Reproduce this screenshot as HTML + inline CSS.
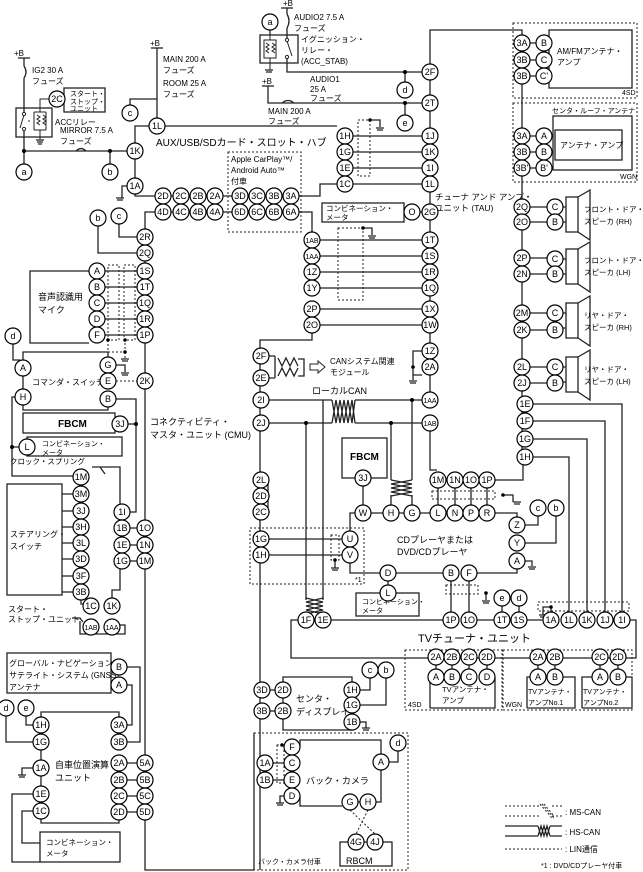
<!DOCTYPE html>
<html><head><meta charset="utf-8"><style>
body{margin:0;background:#fff}
svg{display:block;font-family:"Liberation Sans","Noto Sans CJK JP",sans-serif}
.c{fill:#fff;stroke:#000;stroke-width:1.2}
.t{font-size:9px;text-anchor:middle}
.l{font-size:8px}
.m{font-size:10px}
line,path,polyline{stroke:#222;stroke-width:1.3;fill:none}
.d{stroke-dasharray:2,2;stroke-width:1}
rect{fill:none;stroke:#222;stroke-width:1.3}
.dr{stroke-dasharray:2,2;stroke-width:1}
.j{fill:#000;stroke:none}
.sc{fill:#fff;stroke:#222;stroke-width:1}
</style></head><body>
<svg width="643" height="872" viewBox="0 0 643 872" xmlns="http://www.w3.org/2000/svg">
<!-- ===== top-left power ===== -->
<line x1="18" y1="58" x2="30" y2="58"/><text x="14" y="56" class="l">+B</text>
<path d="M24 58V66 M24 78V113 M24 130V172"/>
<path d="M24 66q4 6 0 12"/>
<text x="32" y="73" class="l">IG2 30 A</text><text x="32" y="84" class="l">フューズ</text>
<rect x="16" y="108" width="36" height="29"/>
<path d="M24 115L20 128" style="stroke-width:1"/><circle cx="24" cy="114" r="1.6" class="sc"/><circle cx="24" cy="129" r="1.6" class="sc"/>
<path d="M40 112V99H49 M34 112H46 M34 112V130 M46 112V130 M34 130H46 M40 130V140" style="stroke-width:1"/>
<path d="M37 115l3 2-3 2 3 2-3 2 3 2 M43 115l3 2-3 2 3 2-3 2 3 2 M29 120v2" style="stroke-width:1"/>
<text x="55" y="125" class="l">ACCリレー</text>
<rect x="64" y="88" width="41" height="24"/>
<text x="70" y="96" class="l" style="font-size:7px">スタート・</text><text x="70" y="104" class="l" style="font-size:7px">ストップ・</text><text x="70" y="111" class="l" style="font-size:7px">ユニット</text>
<path d="M24 151H127 M76 151q5 -5 10 0"/>
<text x="60" y="133" class="l">MIRROR 7.5 A</text><text x="60" y="144" class="l">フューズ</text>
<circle cx="24" cy="151" r="2" class="j"/><circle cx="110" cy="151" r="2" class="j"/>
<path d="M110 151V164"/>
<!-- MAIN 200A -->
<line x1="151" y1="48" x2="163" y2="48"/><text x="150" y="46" class="l">+B</text>
<path d="M157 48V118 M157 99H130V105"/>
<text x="163" y="62" class="l">MAIN 200 A</text><text x="163" y="73" class="l">フューズ</text>
<text x="163" y="86" class="l">ROOM 25 A</text><text x="163" y="97" class="l">フューズ</text>
<!-- hub box -->
<path d="M135 143V126H337 M135 159V178 M135 194V196H155"/>
<path d="M128 186H122V198"/>
<text x="156" y="146" class="m">AUX/USB/SDカード・スロット・ハブ</text>
<rect x="228" y="152" width="73" height="80" class="dr"/>
<text x="231" y="162" class="l">Apple CarPlay™/</text><text x="231" y="173" class="l">Android Auto™</text><text x="231" y="184" class="l">付車</text>
<path d="M155 196H320V184H337 M163 196V212 M181 196V212 M198 196V212 M215 196V212 M240 196V212 M257 196V212 M274 196V212 M291 196V212"/>
<path d="M145 229V212H312V232"/>
<path d="M119 224V237H137 M98 226V253H137"/>
<!-- CMU left vertical -->
<path d="M145 245V870H254V733 M260 870V340H312V333"/>
<text x="150" y="425" class="l" style="font-size:9px">コネクティビティ・</text><text x="150" y="438" class="l" style="font-size:9px">マスタ・ユニット (CMU)</text>
<!-- mic -->
<path d="M89 271H30V343H89"/>
<text x="38" y="300" class="l" style="font-size:9px">音声認識用</text><text x="38" y="313" class="l" style="font-size:9px">マイク</text>
<path d="M105 271H137 M105 287H137 M105 303H137 M105 319H137 M105 335H137"/>
<rect x="108" y="265" width="11" height="75" class="dr"/><rect x="124" y="265" width="11" height="75" class="dr"/>
<path d="M108 340V352H125V340 M125 352V358" class="d"/>
<circle cx="108" cy="340" r="1.8" class="j"/><circle cx="125" cy="340" r="1.8" class="j"/><circle cx="125" cy="352" r="1.8" class="j"/>
<!-- commander switch -->
<path d="M13 344V360H20 M23 376V389 M23 360V352H108V357 M23 405V410H108V407 M116 365H125V372 M116 399H136V512H130"/>
<path d="M116 381H137" class="d"/>
<text x="32" y="385" class="l">コマンダ・スイッチ</text>
<rect x="23" y="413" width="92" height="20"/><text x="58" y="427" class="m" style="font-weight:bold">FBCM</text>
<path d="M128 424H136"/><circle cx="136" cy="424" r="2" class="j"/>
<rect x="27" y="437" width="95" height="19"/>
<text x="42" y="446" class="l" style="font-size:7px">コンビネーション・</text><text x="42" y="455" class="l" style="font-size:7px">メータ</text>
<path d="M15 397H12V476H73 M12 447H19"/><circle cx="12" cy="447" r="2" class="j"/>
<text x="10" y="464" class="l" style="font-size:7.5px">クロック・スプリング</text>
<path d="M92 467H100L105 474 M100 467H120V504"/>
<rect x="7" y="484" width="55" height="111"/>
<text x="10" y="537" class="l">ステアリング・</text><text x="10" y="549" class="l">スイッチ</text>
<path d="M62 494H73 M62 511H73 M62 527H73 M62 543H73 M62 559H73 M62 576H73 M62 592H73"/>
<path d="M81 600V604H83 M130 528H137 M130 545H137 M130 561H137 M112 598V590H120V569 M122 520V536"/>
<text x="8" y="612" class="l">スタート・</text><text x="8" y="622" class="l">ストップ・ユニット</text>
<path d="M72 618H80L83 622 M80 621V634H125V625H120"/>
<!-- GNSS -->
<rect x="7" y="653" width="104" height="40"/>
<text x="9" y="666" class="l">グローバル・ナビゲーション・</text><text x="9" y="678" class="l">サテライト・システム (GNSS)</text><text x="9" y="690" class="l">アンテナ</text>
<path d="M127 667H140V742H127 M127 685H132V725H127"/>
<path d="M6 716V742H33 M26 716V725H33 M41 717V712H119V717 M41 750V760 M41 776V786 M41 802V803 M41 819V823H119V820"/>
<path d="M127 763H137 M127 780H137 M127 796H137 M127 812H137 M33 768H22V775"/>
<path d="M33 794H12V862H40 M33 811H22V843H40"/>
<text x="55" y="768" class="l" style="font-size:9px">自車位置演算</text><text x="55" y="781" class="l" style="font-size:9px">ユニット</text>
<rect x="40" y="832" width="80" height="30"/>
<text x="46" y="845" class="l" style="font-size:7.5px">コンビネーション・</text><text x="46" y="856" class="l" style="font-size:7.5px">メータ</text>
<!-- ===== top middle AUDIO ===== -->
<line x1="281" y1="8" x2="293" y2="8"/><text x="283" y="6" class="l">+B</text>
<path d="M287 8V14 M287 28V40 M287 58V72H422 M270 30V35"/>
<path d="M287 14q4 7 0 14"/>
<path d="M287 41L292 56" style="stroke-width:1"/><circle cx="287" cy="40" r="1.6" class="sc"/><circle cx="287" cy="57" r="1.6" class="sc"/>
<text x="294" y="20" class="l">AUDIO2 7.5 A</text><text x="294" y="31" class="l">フューズ</text>
<rect x="260" y="35" width="38" height="28"/>
<path d="M270 35V40 M264 40H276V58H264Z M270 58V70 M266 43l3 2-3 2 3 2-3 2 3 2 M272 43l3 2-3 2 3 2-3 2 3 2" style="stroke-width:1"/>
<text x="301" y="42" class="l">イグニッション・</text><text x="301" y="53" class="l">リレー・</text><text x="301" y="64" class="l">(ACC_STAB)</text>
<line x1="262" y1="86" x2="274" y2="86"/><text x="262" y="84" class="l">+B</text>
<path d="M268 86V103H422 M282 103q6 -5 12 0"/>
<text x="310" y="82" class="l">AUDIO1</text><text x="310" y="92" class="l">25 A</text><text x="310" y="101" class="l">フューズ</text>
<text x="268" y="114" class="l">MAIN 200 A</text><text x="268" y="124" class="l">フューズ</text>
<path d="M405 72V82 M405 103V115"/><circle cx="405" cy="72" r="2" class="j"/><circle cx="405" cy="103" r="2" class="j"/>
<!-- TAU column -->
<path d="M430 64V30H522V35 M430 80V95 M430 111V128 M430 144V204 M430 220V232 M430 295V301 M430 333V343 M430 375V392 M430 431V470H437"/>
<path d="M353 136H422 M353 152H422 M353 168H422 M353 184H422"/>
<rect x="358" y="120" width="12" height="56" class="dr"/><path d="M370 120H380V127"/><circle cx="370" cy="120" r="1.8" class="j"/>
<text x="435" y="200" class="l" style="font-size:8.5px">チューナ アンド アンプ・</text><text x="435" y="211" class="l" style="font-size:8.5px">ユニット (TAU)</text>
<rect x="322" y="203" width="82" height="19"/>
<text x="326" y="211" class="l" style="font-size:7.5px">コンビネーション・</text><text x="326" y="220" class="l" style="font-size:7.5px">メータ</text>
<path d="M420 212H422"/>
<path d="M320 240H422 M320 256H422 M320 272H422 M320 288H422 M320 309H422 M320 325H422"/>
<rect x="338" y="228" width="25" height="72" class="dr"/><path d="M363 228H372V235"/><circle cx="363" cy="228" r="1.8" class="j"/>
<path d="M422 351H413V375H422 M413 367V380"/><circle cx="413" cy="367" r="1.8" class="j"/>
<!-- CAN -->
<path d="M269 356H275 M269 378H275 M275 356V378"/>
<path d="M278 358l4 8 4-8 4 8 4-8 4 8 M278 376l4-8 4 8 4-8 4 8 4-8 M298 359h6v17h-6"/>
<path d="M310 364h8v-3l7 6-7 6v-3h-8z" style="stroke-width:1"/>
<text x="330" y="364" class="l">CANシステム関連</text><text x="330" y="375" class="l">モジュール</text>
<text x="312" y="394" class="l" style="font-size:9px">ローカルCAN</text>
<path d="M269 400H332 M355 400H422 M269 423H332 M355 423H422"/>
<path d="M332 400l4 23 4-23 4 23 4-23 4 23 3-23 M332 423l4-23 4 23 4-23 4 23 4-23 3 23"/>
<path d="M306 423V600 M323 400V600 M412 400V480 M391 423V480 M391 495V505 M412 495V505"/>
<circle cx="306" cy="423" r="2" class="j"/><circle cx="412" cy="400" r="2" class="j"/><circle cx="391" cy="423" r="2" class="j"/>
<path d="M306 598l17 4-17 4 17 4-17 4 M323 598l-17 4 17 4-17 4 17 4"/>
<path d="M391 480l21 4-21 4 21 4-21 4 M412 480l-21 4 21 4-21 4 21 4"/>
<rect x="342" y="438" width="45" height="40"/><text x="350" y="460" class="m" style="font-weight:bold">FBCM</text>
<path d="M363 486V505 M350 531V513H355 M371 513H383 M399 513H404 M420 513H430 M495 513H517V517"/>
<path d="M438 488V505 M455 488V505 M471 488V505 M487 488V505 M495 480H523V465"/>
<rect x="432" y="491" width="63" height="8" class="dr"/><path d="M503 495H513V502"/><circle cx="503" cy="495" r="1.8" class="j"/>
<path d="M525 525H538V516 M525 543H556V516 M525 561H532V566"/>
<text x="397" y="543" class="l" style="font-size:9px">CDプレーヤまたは</text><text x="397" y="555" class="l" style="font-size:9px">DVD/CDプレーヤ</text>
<rect x="250" y="528" width="114" height="56" class="dr"/><text x="355" y="582" class="l" style="font-size:7px">*1</text>
<path d="M269 539H342 M269 555H342 M350 563V573H380 M396 573H443 M477 573H517V569"/>
<rect x="331" y="535" width="8" height="25" class="dr"/><path d="M335 560V568"/><circle cx="335" cy="560" r="1.8" class="j"/>
<path d="M388 581V585"/>
<rect x="356" y="593" width="63" height="23"/><text x="362" y="604" class="l" style="font-size:7px">コンビネーション・</text><text x="362" y="613" class="l" style="font-size:7px">メータ</text>
<path d="M451 581V612 M469 581V612 M502 606V612 M519 606V612"/>
<rect x="446" y="585" width="32" height="9" class="dr"/><path d="M486 593V600"/><circle cx="486" cy="593" r="1.8" class="j"/>
<!-- TV tuner -->
<path d="M298 620H291V658H636V620H630 M314 620H315 M331 620H443 M477 620H494 M527 620H543"/>
<text x="418" y="642" class="m" style="font-size:11px">TVチューナ・ユニット</text>
<rect x="538" y="602" width="91" height="9" class="dr"/><path d="M551 612V607H543V615"/><circle cx="551" cy="607" r="1.8" class="j"/>
<path d="M533 404H622V612 M533 421H605V612 M533 439H587V612 M533 457H569V612"/>
<!-- right column -->
<path d="M522 84V449 M530 207H547 M530 222H547 M530 258H547 M530 274H547 M530 313H547 M530 330H547 M530 367H547 M530 383H547"/>
<rect x="513" y="23" width="124" height="75" class="dr"/>
<rect x="549" y="30" width="83" height="58"/>
<path d="M530 43H536 M530 60H536 M530 76H536"/>
<text x="557" y="54" class="l">AM/FMアンテナ・</text><text x="557" y="65" class="l">アンプ</text>
<text x="622" y="95" class="l" style="font-size:7px">4SD</text>
<rect x="513" y="103" width="124" height="79" class="dr"/>
<text x="552" y="113" class="l" style="font-size:7px">センタ・ルーフ・アンテナ</text>
<rect x="553" y="116" width="79" height="54"/>
<rect x="555" y="130" width="67" height="30"/><text x="560" y="148" class="l">アンテナ・アンプ</text>
<path d="M530 136H536 M530 152H536 M530 168H536"/>
<text x="620" y="179" class="l" style="font-size:7px">WGN</text>
<!-- speakers -->
<g id="sp"><rect x="566" y="197" width="12" height="35"/><path d="M563 207H566 M563 222H566 M578 197L590 190V240L578 232"/></g>
<use href="#sp" y="52"/><use href="#sp" y="106"/><use href="#sp" y="160"/>
<g style="font-size:7.5px">
<text x="584" y="212">フロント・ドア・</text><text x="584" y="224">スピーカ (RH)</text>
<text x="584" y="263">フロント・ドア・</text><text x="584" y="275">スピーカ (LH)</text>
<text x="584" y="318">リヤ・ドア・</text><text x="584" y="330">スピーカ (RH)</text>
<text x="584" y="372">リヤ・ドア・</text><text x="584" y="384">スピーカ (LH)</text>
</g>
<!-- center display -->
<path d="M270 690H275 M270 711H275 M283 698V703 M283 682V677H352V682 M283 719V730H352 M360 722H366V728 M360 690H370V678 M360 705H386V678"/>
<text x="296" y="702" class="l" style="font-size:9px">センタ・</text><text x="296" y="715" class="l" style="font-size:9px">ディスプレイ</text>
<rect x="254" y="733" width="154" height="137" class="dr"/>
<path d="M273 763H284 M273 780H284 M300 747V740H381V754 M284 796H280V803 M300 796V806H342 M358 802H360 M376 802H381V770 M389 762H398V751"/>
<rect x="277" y="745" width="7" height="38" class="dr"/><circle cx="282" cy="745" r="1.8" class="j"/>
<text x="306" y="784" class="l" style="font-size:9px">バック・カメラ</text>
<path d="M350 810L375 834 M368 810L356 834" class="d"/>
<rect x="340" y="842" width="52" height="24"/><text x="346" y="864" class="l" style="font-size:9px">RBCM</text>
<text x="258" y="864" class="l" style="font-size:7px">バック・カメラ付車</text>
<!-- TV antennas -->
<rect x="405" y="650" width="97" height="60" class="dr"/><rect x="503" y="650" width="129" height="60" class="dr"/>
<path d="M436 665V669 M452 665V669 M469 665V669 M487 665V669 M538 665V669 M555 665V669 M600 665V669 M618 665V669"/>
<path d="M430 708V677H428 M495 677V708H430 M527 708V677H530 M563 677H575V708H527 M582 708V677H592 M626 677H632V708H582"/>
<text x="442" y="692" class="l" style="font-size:7.5px">TVアンテナ・</text><text x="442" y="703" class="l" style="font-size:7.5px">アンプ</text>
<text x="408" y="707" class="l" style="font-size:7px">4SD</text><text x="505" y="707" class="l" style="font-size:7px">WGN</text>
<text x="528" y="694" class="l" style="font-size:7px">TVアンテナ・</text><text x="528" y="705" class="l" style="font-size:7px">アンプNo.1</text>
<text x="583" y="694" class="l" style="font-size:7px">TVアンテナ・</text><text x="583" y="705" class="l" style="font-size:7px">アンプNo.2</text>
<!-- legend -->
<path d="M505 806H540 M552 806H562 M505 816H540 M552 816H562" class="d"/>
<path d="M540 804l12 14 M542 804l12 14 M544 804l10 12" class="d"/>
<path d="M505 826H538 M550 826H562 M505 836H538 M550 836H562 M538 826l3 10 3-10 3 10 3-10 M538 836l3-10 3 10 3-10 3 10"/>
<path d="M505 849H562" class="d"/>
<text x="565" y="815" class="l">: MS-CAN</text><text x="565" y="835" class="l">: HS-CAN</text><text x="565" y="852" class="l">: LIN通信</text>
<text x="541" y="868" class="l" style="font-size:7px">*1  : DVD/CDプレーヤ付車</text>
<!-- ground marks -->
<g style="stroke-width:1">
<path d="M36 140h8M37 142h6M38 144h4 M116 198h8M117 200h6 M376 128h8M377 130h6 M368 236h8M369 238h6 M121 359h8M122 361h6 M121 373h8M122 375h6 M409 381h8M410 383h6 M258 517h8M259 519h6 M331 568h8M332 570h6 M513 502h8M514 504h6 M528 567h8M529 569h6 M482 601h8M483 603h6 M539 615h8M540 617h6 M18 775h8M19 777h6 M362 728h8M363 730h6 M276 803h8M277 805h6 M265 70h8M266 72h6"/>
</g>
<path d="M261 480H268V512"/><circle cx="268" cy="496" r="1.8" class="j"/><circle cx="268" cy="512" r="1.8" class="j"/>
<!-- ===== connector circles ===== -->
<g>
<circle cx="24" cy="172" r="8" class="c"/><text x="24" y="175" class="t">a</text>
<circle cx="110" cy="172" r="8" class="c"/><text x="110" y="175" class="t">b</text>
<circle cx="57" cy="99" r="8" class="c"/><text x="57" y="102" class="t">2C</text>
<circle cx="130" cy="113" r="8" class="c"/><text x="130" y="116" class="t">c</text>
<circle cx="157" cy="126" r="8" class="c"/><text x="157" y="129" class="t">1L</text>
<circle cx="135" cy="151" r="8" class="c"/><text x="135" y="154" class="t">1K</text>
<circle cx="135" cy="186" r="8" class="c"/><text x="135" y="189" class="t">1A</text>
<circle cx="163" cy="196" r="8" class="c"/><text x="163" y="199" class="t">2D</text>
<circle cx="181" cy="196" r="8" class="c"/><text x="181" y="199" class="t">2C</text>
<circle cx="198" cy="196" r="8" class="c"/><text x="198" y="199" class="t">2B</text>
<circle cx="215" cy="196" r="8" class="c"/><text x="215" y="199" class="t">2A</text>
<circle cx="240" cy="196" r="8" class="c"/><text x="240" y="199" class="t">3D</text>
<circle cx="257" cy="196" r="8" class="c"/><text x="257" y="199" class="t">3C</text>
<circle cx="274" cy="196" r="8" class="c"/><text x="274" y="199" class="t">3B</text>
<circle cx="291" cy="196" r="8" class="c"/><text x="291" y="199" class="t">3A</text>
<circle cx="163" cy="212" r="8" class="c"/><text x="163" y="215" class="t">4D</text>
<circle cx="181" cy="212" r="8" class="c"/><text x="181" y="215" class="t">4C</text>
<circle cx="198" cy="212" r="8" class="c"/><text x="198" y="215" class="t">4B</text>
<circle cx="215" cy="212" r="8" class="c"/><text x="215" y="215" class="t">4A</text>
<circle cx="240" cy="212" r="8" class="c"/><text x="240" y="215" class="t">6D</text>
<circle cx="257" cy="212" r="8" class="c"/><text x="257" y="215" class="t">6C</text>
<circle cx="274" cy="212" r="8" class="c"/><text x="274" y="215" class="t">6B</text>
<circle cx="291" cy="212" r="8" class="c"/><text x="291" y="215" class="t">6A</text>
<circle cx="98" cy="218" r="8" class="c"/><text x="98" y="221" class="t">b</text>
<circle cx="119" cy="216" r="8" class="c"/><text x="119" y="219" class="t">c</text>
<circle cx="145" cy="237" r="8" class="c"/><text x="145" y="240" class="t">2R</text>
<circle cx="145" cy="253" r="8" class="c"/><text x="145" y="256" class="t">2Q</text>
<circle cx="145" cy="271" r="8" class="c"/><text x="145" y="274" class="t">1S</text>
<circle cx="145" cy="287" r="8" class="c"/><text x="145" y="290" class="t">1T</text>
<circle cx="145" cy="303" r="8" class="c"/><text x="145" y="306" class="t">1Q</text>
<circle cx="145" cy="319" r="8" class="c"/><text x="145" y="322" class="t">1R</text>
<circle cx="145" cy="335" r="8" class="c"/><text x="145" y="338" class="t">1P</text>
<circle cx="97" cy="271" r="8" class="c"/><text x="97" y="274" class="t">A</text>
<circle cx="97" cy="287" r="8" class="c"/><text x="97" y="290" class="t">B</text>
<circle cx="97" cy="303" r="8" class="c"/><text x="97" y="306" class="t">C</text>
<circle cx="97" cy="319" r="8" class="c"/><text x="97" y="322" class="t">D</text>
<circle cx="97" cy="335" r="8" class="c"/><text x="97" y="338" class="t">F</text>
<circle cx="13" cy="336" r="8" class="c"/><text x="13" y="339" class="t">d</text>
<circle cx="23" cy="368" r="8" class="c"/><text x="23" y="371" class="t">A</text>
<circle cx="23" cy="397" r="8" class="c"/><text x="23" y="400" class="t">H</text>
<circle cx="108" cy="365" r="8" class="c"/><text x="108" y="368" class="t">G</text>
<circle cx="108" cy="381" r="8" class="c"/><text x="108" y="384" class="t">E</text>
<circle cx="108" cy="399" r="8" class="c"/><text x="108" y="402" class="t">B</text>
<circle cx="145" cy="381" r="8" class="c"/><text x="145" y="384" class="t">2K</text>
<circle cx="120" cy="424" r="8" class="c"/><text x="120" y="427" class="t">3J</text>
<circle cx="27" cy="447" r="8" class="c"/><text x="27" y="450" class="t">L</text>
<circle cx="81" cy="477" r="8" class="c"/><text x="81" y="480" class="t">1M</text>
<circle cx="81" cy="494" r="8" class="c"/><text x="81" y="497" class="t">3M</text>
<circle cx="81" cy="511" r="8" class="c"/><text x="81" y="514" class="t">3J</text>
<circle cx="81" cy="527" r="8" class="c"/><text x="81" y="530" class="t">3H</text>
<circle cx="81" cy="543" r="8" class="c"/><text x="81" y="546" class="t">3L</text>
<circle cx="81" cy="559" r="8" class="c"/><text x="81" y="562" class="t">3D</text>
<circle cx="81" cy="576" r="8" class="c"/><text x="81" y="579" class="t">3F</text>
<circle cx="81" cy="592" r="8" class="c"/><text x="81" y="595" class="t">3B</text>
<circle cx="122" cy="512" r="8" class="c"/><text x="122" y="515" class="t">1I</text>
<circle cx="122" cy="528" r="8" class="c"/><text x="122" y="531" class="t">1B</text>
<circle cx="122" cy="545" r="8" class="c"/><text x="122" y="548" class="t">1E</text>
<circle cx="122" cy="561" r="8" class="c"/><text x="122" y="564" class="t">1G</text>
<circle cx="145" cy="528" r="8" class="c"/><text x="145" y="531" class="t">1O</text>
<circle cx="145" cy="545" r="8" class="c"/><text x="145" y="548" class="t">1N</text>
<circle cx="145" cy="561" r="8" class="c"/><text x="145" y="564" class="t">1M</text>
<circle cx="91" cy="606" r="8" class="c"/><text x="91" y="609" class="t">1C</text>
<circle cx="112" cy="606" r="8" class="c"/><text x="112" y="609" class="t">1K</text>
<circle cx="91" cy="627" r="8" class="c"/><text x="91" y="630" class="t" style="font-size:7px">1AB</text>
<circle cx="112" cy="627" r="8" class="c"/><text x="112" y="630" class="t" style="font-size:7px">1AA</text>
<circle cx="119" cy="667" r="8" class="c"/><text x="119" y="670" class="t">B</text>
<circle cx="119" cy="685" r="8" class="c"/><text x="119" y="688" class="t">A</text>
<circle cx="6" cy="708" r="8" class="c"/><text x="6" y="711" class="t">d</text>
<circle cx="26" cy="708" r="8" class="c"/><text x="26" y="711" class="t">e</text>
<circle cx="41" cy="725" r="8" class="c"/><text x="41" y="728" class="t">1H</text>
<circle cx="41" cy="742" r="8" class="c"/><text x="41" y="745" class="t">1G</text>
<circle cx="41" cy="768" r="8" class="c"/><text x="41" y="771" class="t">1A</text>
<circle cx="41" cy="794" r="8" class="c"/><text x="41" y="797" class="t">1E</text>
<circle cx="41" cy="811" r="8" class="c"/><text x="41" y="814" class="t">1C</text>
<circle cx="119" cy="725" r="8" class="c"/><text x="119" y="728" class="t">3A</text>
<circle cx="119" cy="742" r="8" class="c"/><text x="119" y="745" class="t">3B</text>
<circle cx="119" cy="763" r="8" class="c"/><text x="119" y="766" class="t">2A</text>
<circle cx="119" cy="780" r="8" class="c"/><text x="119" y="783" class="t">2B</text>
<circle cx="119" cy="796" r="8" class="c"/><text x="119" y="799" class="t">2C</text>
<circle cx="119" cy="812" r="8" class="c"/><text x="119" y="815" class="t">2D</text>
<circle cx="145" cy="763" r="8" class="c"/><text x="145" y="766" class="t">5A</text>
<circle cx="145" cy="780" r="8" class="c"/><text x="145" y="783" class="t">5B</text>
<circle cx="145" cy="796" r="8" class="c"/><text x="145" y="799" class="t">5C</text>
<circle cx="145" cy="812" r="8" class="c"/><text x="145" y="815" class="t">5D</text>
<circle cx="270" cy="22" r="8" class="c"/><text x="270" y="25" class="t">a</text>
<circle cx="405" cy="90" r="8" class="c"/><text x="405" y="93" class="t">d</text>
<circle cx="405" cy="123" r="8" class="c"/><text x="405" y="126" class="t">e</text>
<circle cx="430" cy="72" r="8" class="c"/><text x="430" y="75" class="t">2F</text>
<circle cx="430" cy="103" r="8" class="c"/><text x="430" y="106" class="t">2T</text>
<circle cx="345" cy="136" r="8" class="c"/><text x="345" y="139" class="t">1H</text>
<circle cx="345" cy="152" r="8" class="c"/><text x="345" y="155" class="t">1G</text>
<circle cx="345" cy="168" r="8" class="c"/><text x="345" y="171" class="t">1E</text>
<circle cx="345" cy="184" r="8" class="c"/><text x="345" y="187" class="t">1C</text>
<circle cx="430" cy="136" r="8" class="c"/><text x="430" y="139" class="t">1J</text>
<circle cx="430" cy="152" r="8" class="c"/><text x="430" y="155" class="t">1K</text>
<circle cx="430" cy="168" r="8" class="c"/><text x="430" y="171" class="t">1I</text>
<circle cx="430" cy="184" r="8" class="c"/><text x="430" y="187" class="t">1L</text>
<circle cx="412" cy="212" r="8" class="c"/><text x="412" y="215" class="t">O</text>
<circle cx="430" cy="212" r="8" class="c"/><text x="430" y="215" class="t">2G</text>
<circle cx="312" cy="240" r="8" class="c"/><text x="312" y="243" class="t" style="font-size:7px">1AB</text>
<circle cx="312" cy="256" r="8" class="c"/><text x="312" y="259" class="t" style="font-size:7px">1AA</text>
<circle cx="312" cy="272" r="8" class="c"/><text x="312" y="275" class="t">1Z</text>
<circle cx="312" cy="288" r="8" class="c"/><text x="312" y="291" class="t">1Y</text>
<circle cx="312" cy="309" r="8" class="c"/><text x="312" y="312" class="t">2P</text>
<circle cx="312" cy="325" r="8" class="c"/><text x="312" y="328" class="t">2O</text>
<circle cx="430" cy="240" r="8" class="c"/><text x="430" y="243" class="t">1T</text>
<circle cx="430" cy="256" r="8" class="c"/><text x="430" y="259" class="t">1S</text>
<circle cx="430" cy="272" r="8" class="c"/><text x="430" y="275" class="t">1R</text>
<circle cx="430" cy="288" r="8" class="c"/><text x="430" y="291" class="t">1Q</text>
<circle cx="430" cy="309" r="8" class="c"/><text x="430" y="312" class="t">1X</text>
<circle cx="430" cy="325" r="8" class="c"/><text x="430" y="328" class="t">1W</text>
<circle cx="430" cy="351" r="8" class="c"/><text x="430" y="354" class="t">1Z</text>
<circle cx="430" cy="367" r="8" class="c"/><text x="430" y="370" class="t">2A</text>
<circle cx="430" cy="400" r="8" class="c"/><text x="430" y="403" class="t" style="font-size:7px">1AA</text>
<circle cx="430" cy="423" r="8" class="c"/><text x="430" y="426" class="t" style="font-size:7px">1AB</text>
<circle cx="261" cy="356" r="8" class="c"/><text x="261" y="359" class="t">2F</text>
<circle cx="261" cy="378" r="8" class="c"/><text x="261" y="381" class="t">2E</text>
<circle cx="261" cy="400" r="8" class="c"/><text x="261" y="403" class="t">2I</text>
<circle cx="261" cy="423" r="8" class="c"/><text x="261" y="426" class="t">2J</text>
<circle cx="261" cy="480" r="8" class="c"/><text x="261" y="483" class="t">2L</text>
<circle cx="261" cy="496" r="8" class="c"/><text x="261" y="499" class="t">2D</text>
<circle cx="261" cy="512" r="8" class="c"/><text x="261" y="515" class="t">2C</text>
<circle cx="261" cy="539" r="8" class="c"/><text x="261" y="542" class="t">1G</text>
<circle cx="261" cy="555" r="8" class="c"/><text x="261" y="558" class="t">1H</text>
<circle cx="363" cy="478" r="8" class="c"/><text x="363" y="481" class="t">3J</text>
<circle cx="438" cy="480" r="8" class="c"/><text x="438" y="483" class="t">1M</text>
<circle cx="455" cy="480" r="8" class="c"/><text x="455" y="483" class="t">1N</text>
<circle cx="471" cy="480" r="8" class="c"/><text x="471" y="483" class="t">1O</text>
<circle cx="487" cy="480" r="8" class="c"/><text x="487" y="483" class="t">1P</text>
<circle cx="363" cy="513" r="8" class="c"/><text x="363" y="516" class="t">W</text>
<circle cx="391" cy="513" r="8" class="c"/><text x="391" y="516" class="t">H</text>
<circle cx="412" cy="513" r="8" class="c"/><text x="412" y="516" class="t">G</text>
<circle cx="438" cy="513" r="8" class="c"/><text x="438" y="516" class="t">L</text>
<circle cx="455" cy="513" r="8" class="c"/><text x="455" y="516" class="t">N</text>
<circle cx="471" cy="513" r="8" class="c"/><text x="471" y="516" class="t">P</text>
<circle cx="487" cy="513" r="8" class="c"/><text x="487" y="516" class="t">R</text>
<circle cx="517" cy="525" r="8" class="c"/><text x="517" y="528" class="t">Z</text>
<circle cx="517" cy="543" r="8" class="c"/><text x="517" y="546" class="t">Y</text>
<circle cx="517" cy="561" r="8" class="c"/><text x="517" y="564" class="t">A</text>
<circle cx="538" cy="508" r="8" class="c"/><text x="538" y="511" class="t">c</text>
<circle cx="556" cy="508" r="8" class="c"/><text x="556" y="511" class="t">b</text>
<circle cx="350" cy="539" r="8" class="c"/><text x="350" y="542" class="t">U</text>
<circle cx="350" cy="555" r="8" class="c"/><text x="350" y="558" class="t">V</text>
<circle cx="388" cy="573" r="8" class="c"/><text x="388" y="576" class="t">D</text>
<circle cx="388" cy="593" r="8" class="c"/><text x="388" y="596" class="t">L</text>
<circle cx="451" cy="573" r="8" class="c"/><text x="451" y="576" class="t">B</text>
<circle cx="469" cy="573" r="8" class="c"/><text x="469" y="576" class="t">F</text>
<circle cx="502" cy="598" r="8" class="c"/><text x="502" y="601" class="t">e</text>
<circle cx="519" cy="598" r="8" class="c"/><text x="519" y="601" class="t">d</text>
<circle cx="306" cy="620" r="8" class="c"/><text x="306" y="623" class="t">1F</text>
<circle cx="323" cy="620" r="8" class="c"/><text x="323" y="623" class="t">1E</text>
<circle cx="451" cy="620" r="8" class="c"/><text x="451" y="623" class="t">1P</text>
<circle cx="469" cy="620" r="8" class="c"/><text x="469" y="623" class="t">1O</text>
<circle cx="502" cy="620" r="8" class="c"/><text x="502" y="623" class="t">1T</text>
<circle cx="519" cy="620" r="8" class="c"/><text x="519" y="623" class="t">1S</text>
<circle cx="551" cy="620" r="8" class="c"/><text x="551" y="623" class="t">1A</text>
<circle cx="569" cy="620" r="8" class="c"/><text x="569" y="623" class="t">1L</text>
<circle cx="587" cy="620" r="8" class="c"/><text x="587" y="623" class="t">1K</text>
<circle cx="605" cy="620" r="8" class="c"/><text x="605" y="623" class="t">1J</text>
<circle cx="622" cy="620" r="8" class="c"/><text x="622" y="623" class="t">1I</text>
<circle cx="522" cy="43" r="8" class="c"/><text x="522" y="46" class="t">3A</text>
<circle cx="522" cy="60" r="8" class="c"/><text x="522" y="63" class="t">3B</text>
<circle cx="522" cy="76" r="8" class="c"/><text x="522" y="79" class="t">3B</text>
<circle cx="544" cy="43" r="8" class="c"/><text x="544" y="46" class="t">B</text>
<circle cx="544" cy="60" r="8" class="c"/><text x="544" y="63" class="t">C</text>
<circle cx="544" cy="76" r="8" class="c"/><text x="544" y="79" class="t">C'</text>
<circle cx="522" cy="136" r="8" class="c"/><text x="522" y="139" class="t">3A</text>
<circle cx="522" cy="152" r="8" class="c"/><text x="522" y="155" class="t">3B</text>
<circle cx="522" cy="168" r="8" class="c"/><text x="522" y="171" class="t">3B'</text>
<circle cx="544" cy="136" r="8" class="c"/><text x="544" y="139" class="t">A</text>
<circle cx="544" cy="152" r="8" class="c"/><text x="544" y="155" class="t">B</text>
<circle cx="544" cy="168" r="8" class="c"/><text x="544" y="171" class="t">B'</text>
<circle cx="522" cy="207" r="8" class="c"/><text x="522" y="210" class="t">2Q</text>
<circle cx="522" cy="222" r="8" class="c"/><text x="522" y="225" class="t">2O</text>
<circle cx="522" cy="258" r="8" class="c"/><text x="522" y="261" class="t">2P</text>
<circle cx="522" cy="274" r="8" class="c"/><text x="522" y="277" class="t">2N</text>
<circle cx="522" cy="313" r="8" class="c"/><text x="522" y="316" class="t">2M</text>
<circle cx="522" cy="330" r="8" class="c"/><text x="522" y="333" class="t">2K</text>
<circle cx="522" cy="367" r="8" class="c"/><text x="522" y="370" class="t">2L</text>
<circle cx="522" cy="383" r="8" class="c"/><text x="522" y="386" class="t">2J</text>
<circle cx="525" cy="404" r="8" class="c"/><text x="525" y="407" class="t">1E</text>
<circle cx="525" cy="421" r="8" class="c"/><text x="525" y="424" class="t">1F</text>
<circle cx="525" cy="439" r="8" class="c"/><text x="525" y="442" class="t">1G</text>
<circle cx="525" cy="457" r="8" class="c"/><text x="525" y="460" class="t">1H</text>
<circle cx="555" cy="207" r="8" class="c"/><text x="555" y="210" class="t">C</text>
<circle cx="555" cy="222" r="8" class="c"/><text x="555" y="225" class="t">B</text>
<circle cx="555" cy="259" r="8" class="c"/><text x="555" y="262" class="t">C</text>
<circle cx="555" cy="274" r="8" class="c"/><text x="555" y="277" class="t">B</text>
<circle cx="555" cy="313" r="8" class="c"/><text x="555" y="316" class="t">C</text>
<circle cx="555" cy="330" r="8" class="c"/><text x="555" y="333" class="t">B</text>
<circle cx="555" cy="367" r="8" class="c"/><text x="555" y="370" class="t">C</text>
<circle cx="555" cy="383" r="8" class="c"/><text x="555" y="386" class="t">B</text>
<circle cx="262" cy="690" r="8" class="c"/><text x="262" y="693" class="t">3D</text>
<circle cx="262" cy="711" r="8" class="c"/><text x="262" y="714" class="t">3B</text>
<circle cx="283" cy="690" r="8" class="c"/><text x="283" y="693" class="t">2D</text>
<circle cx="283" cy="711" r="8" class="c"/><text x="283" y="714" class="t">2B</text>
<circle cx="352" cy="690" r="8" class="c"/><text x="352" y="693" class="t">1H</text>
<circle cx="352" cy="705" r="8" class="c"/><text x="352" y="708" class="t">1G</text>
<circle cx="352" cy="722" r="8" class="c"/><text x="352" y="725" class="t">1B</text>
<circle cx="370" cy="670" r="8" class="c"/><text x="370" y="673" class="t">c</text>
<circle cx="386" cy="670" r="8" class="c"/><text x="386" y="673" class="t">b</text>
<circle cx="292" cy="747" r="8" class="c"/><text x="292" y="750" class="t">F</text>
<circle cx="292" cy="763" r="8" class="c"/><text x="292" y="766" class="t">C</text>
<circle cx="292" cy="780" r="8" class="c"/><text x="292" y="783" class="t">E</text>
<circle cx="292" cy="796" r="8" class="c"/><text x="292" y="799" class="t">D</text>
<circle cx="265" cy="763" r="8" class="c"/><text x="265" y="766" class="t">1A</text>
<circle cx="265" cy="780" r="8" class="c"/><text x="265" y="783" class="t">1B</text>
<circle cx="381" cy="762" r="8" class="c"/><text x="381" y="765" class="t">A</text>
<circle cx="398" cy="743" r="8" class="c"/><text x="398" y="746" class="t">d</text>
<circle cx="350" cy="802" r="8" class="c"/><text x="350" y="805" class="t">G</text>
<circle cx="368" cy="802" r="8" class="c"/><text x="368" y="805" class="t">H</text>
<circle cx="356" cy="842" r="8" class="c"/><text x="356" y="845" class="t">4G</text>
<circle cx="375" cy="842" r="8" class="c"/><text x="375" y="845" class="t">4J</text>
<circle cx="436" cy="657" r="8" class="c"/><text x="436" y="660" class="t">2A</text>
<circle cx="452" cy="657" r="8" class="c"/><text x="452" y="660" class="t">2B</text>
<circle cx="469" cy="657" r="8" class="c"/><text x="469" y="660" class="t">2C</text>
<circle cx="487" cy="657" r="8" class="c"/><text x="487" y="660" class="t">2D</text>
<circle cx="436" cy="677" r="8" class="c"/><text x="436" y="680" class="t">A</text>
<circle cx="452" cy="677" r="8" class="c"/><text x="452" y="680" class="t">B</text>
<circle cx="469" cy="677" r="8" class="c"/><text x="469" y="680" class="t">C</text>
<circle cx="487" cy="677" r="8" class="c"/><text x="487" y="680" class="t">D</text>
<circle cx="538" cy="657" r="8" class="c"/><text x="538" y="660" class="t">2A</text>
<circle cx="555" cy="657" r="8" class="c"/><text x="555" y="660" class="t">2B</text>
<circle cx="600" cy="657" r="8" class="c"/><text x="600" y="660" class="t">2C</text>
<circle cx="618" cy="657" r="8" class="c"/><text x="618" y="660" class="t">2D</text>
<circle cx="538" cy="677" r="8" class="c"/><text x="538" y="680" class="t">A</text>
<circle cx="555" cy="677" r="8" class="c"/><text x="555" y="680" class="t">B</text>
<circle cx="600" cy="677" r="8" class="c"/><text x="600" y="680" class="t">A</text>
<circle cx="618" cy="677" r="8" class="c"/><text x="618" y="680" class="t">B</text>
</g>
</svg>
</body></html>
